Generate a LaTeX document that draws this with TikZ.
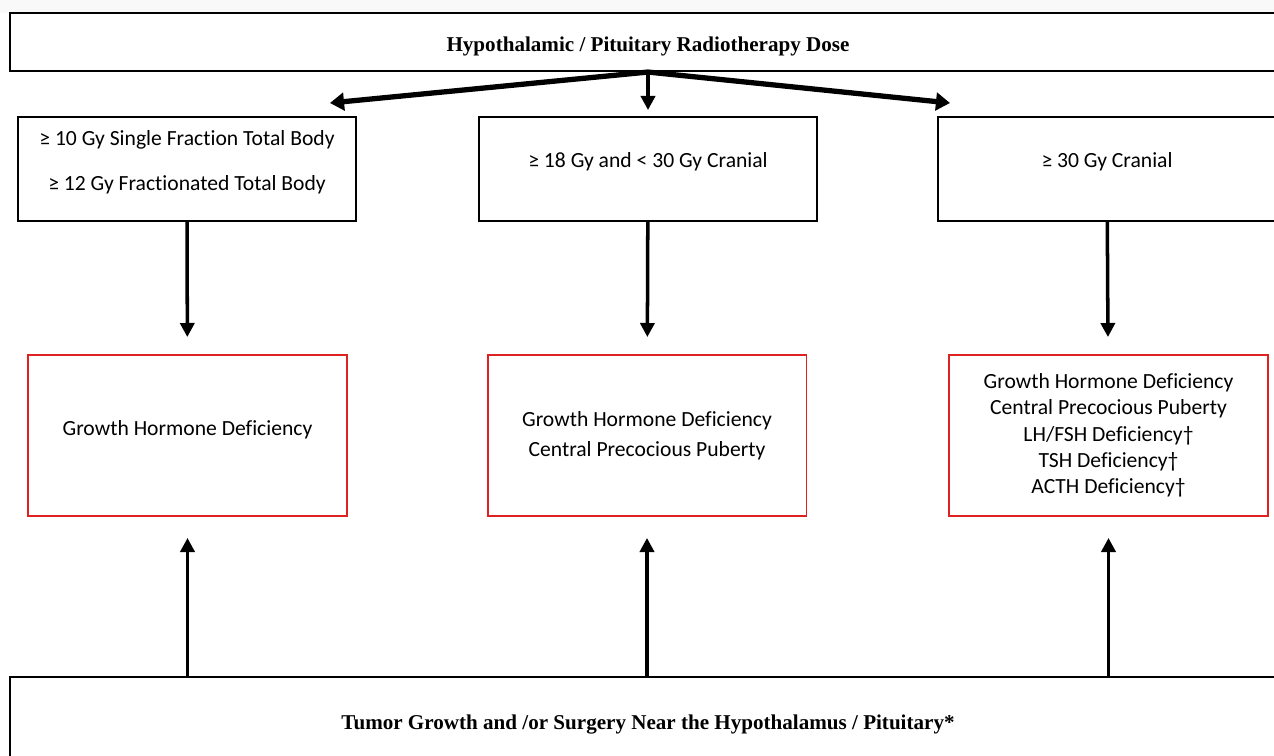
\documentclass[tikz,border=0pt]{standalone}
\usepackage{fontspec}
\setmainfont{Liberation Serif}
\newfontfamily\bodyfont[Ligatures=NoCommon]{Carlito}
\usepackage{xcolor}
\usetikzlibrary{arrows.meta, positioning}
\definecolor{boxred}{RGB}{222,34,34}

\begin{document}
\begin{tikzpicture}[
    x=0.02cm, y=-0.02cm,
    wide/.style = {rectangle, draw, line width=1.2pt, minimum width=25.52cm, text height=13pt, font=\bfseries\fontsize{12}{14}\selectfont},
    dose/.style = {rectangle, draw, line width=1.1pt, minimum width=6.76cm, minimum height=2.08cm, align=center, text depth=9.7pt, font=\bodyfont\fontsize{12.3}{15}\selectfont},
    effect/.style = {rectangle, draw=boxred, line width=1.1pt, minimum width=6.38cm, minimum height=3.22cm, align=center, font=\bodyfont\fontsize{12.3}{15}\selectfont},
    arrow/.style = {line width=2pt, -{Triangle[length=8pt, width=8pt]}},
    fan/.style = {line width=3pt, -{Triangle[length=8pt, width=10pt]}}
]
\useasboundingbox (0,0) rectangle (1274,756);
\clip (0,0) rectangle (1274,756);
\fill[gray!5] (0,0) rectangle (1274,13);

% Dose boxes
\node (hypo) [wide, minimum height=1.16cm] at (648,42) {Hypothalamic / Pituitary Radiotherapy Dose};
\node (tbi) [dose] at (187,169) {≥ 10 Gy Single Fraction Total Body \\[10.5pt] ≥ 12 Gy Fractionated Total Body};
\node (low) [dose] at (648,169) {≥ 18 Gy and < 30 Gy Cranial};
\node (high) [dose] at (1107,169) {≥ 30 Gy Cranial};

% Late effects
\node (ghd) [effect, text depth=8pt] at (187.5,435.5) {Growth Hormone Deficiency};
\node (cpp) [effect] at (647,435.5) {Growth Hormone Deficiency \\[2pt] Central Precocious Puberty};
\node (multi) [effect] at (1108.5,435.5) {Growth Hormone Deficiency \\ Central Precocious Puberty \\ LH/FSH Deficiency† \\ TSH Deficiency† \\ ACTH Deficiency†};

\node (tumor) [wide, minimum height=1.72cm] at (648,720) {Tumor Growth and /or Surgery Near the Hypothalamus / Pituitary*};

% Arrows
\coordinate (tipA) at (330,103);
\coordinate (tipC) at (950,103);
\draw [fan] (hypo.south) -- (tipA);
\draw [fan] (hypo.south) -- (tipC);
\draw [arrow, shorten >=0.12cm] (hypo.south) -- (low);
\draw [arrow, shorten >=0.34cm] (tbi) -- (ghd);
\draw [arrow, shorten >=0.34cm] (low) -- (cpp);
\draw [arrow, shorten >=0.34cm] (high) -- (multi);
\draw [arrow, shorten >=0.42cm] (tumor.north -| ghd) -- (ghd);
\draw [arrow, shorten >=0.42cm] (tumor.north -| cpp) -- (cpp);
\draw [arrow, shorten >=0.42cm] (tumor.north -| multi) -- (multi);

\end{tikzpicture}
\end{document}
